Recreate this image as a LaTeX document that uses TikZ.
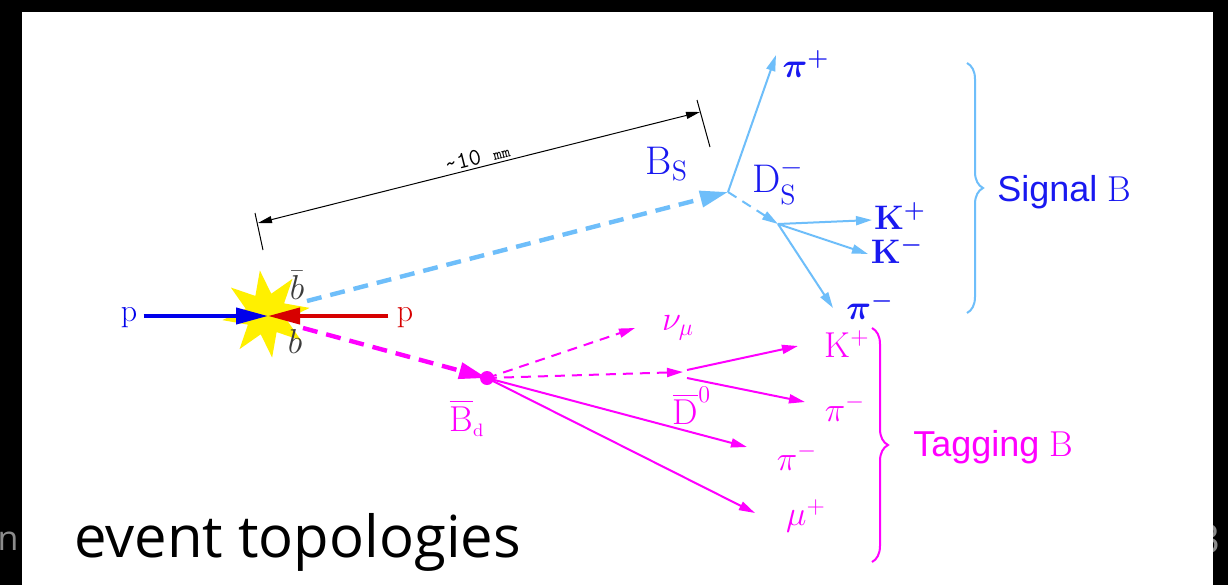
\documentclass[tikz,border=0pt]{standalone}
\usepackage{fontspec}
\usepackage{amsmath}
\newfontfamily\osans{Open Sans}
\newfontfamily\lsans{Liberation Sans}
\usetikzlibrary{arrows.meta,shapes.geometric,decorations.pathreplacing}
\definecolor{sigline}{RGB}{110,190,250}
\definecolor{sigtext}{RGB}{25,25,240}
\definecolor{tagm}{RGB}{255,0,255}
\definecolor{pblue}{RGB}{0,0,235}
\definecolor{pred}{RGB}{215,0,0}
\definecolor{staryel}{RGB}{255,240,0}
\definecolor{bgray}{RGB}{60,60,60}
\definecolor{ghost}{RGB}{140,140,140}
\newcommand{\fs}[1]{\fontsize{#1}{#1}\selectfont}
\tikzset{
  lab/.style={inner sep=0pt},
  siglab/.style={lab, text=sigtext, font=\fs{18}\boldmath},
  taglab/.style={lab, text=tagm, font=\fs{18}},
  thinarr/.style={line width=1pt, -{Triangle[length=8pt,width=4.5pt]}},
  sigarr/.style={thinarr, draw=sigline, fill=sigline},
  tagarr/.style={thinarr, draw=tagm, fill=tagm},
  thickdash/.style={line width=2.2pt, dash pattern=on 7.5pt off 4.5pt},
  thindash/.style={line width=1pt, dash pattern=on 5pt off 3.5pt},
  beam/.style={line width=2pt, -{Triangle[length=16pt,width=8pt]}},
  dimarr/.style={line width=0.5pt, black, {Triangle[length=7pt,width=3.5pt]}-{Triangle[length=7pt,width=3.5pt]}},
  bracestyle/.style={decorate, decoration={brace, amplitude=8pt}, line width=1pt},
}
\begin{document}
\begin{tikzpicture}[x=0.5pt,y=-0.5pt]
\useasboundingbox (0,0) rectangle (1228,585);
\fill[black] (0,0) rectangle (1228,585);
\node[lab, anchor=base east, text=ghost, font=\osans\fs{17}] (gn) at (19,550) {n};
\node[lab, anchor=base east, text=ghost, font=\osans\fs{20}] (g3) at (1221,553) {3};
\fill[white] (22,12) rectangle (1213,585);

% title
\node[lab, anchor=base west, font=\osans\fs{29}] (title) at (74,557) {event topologies};

% collision
\node[star, star points=8, star point ratio=2.1, fill=staryel, minimum size=44pt, inner sep=0pt, rotate=8] (star) at (266,314) {};
\node[lab, text=pblue, font=\fs{16}] (pl) at (129,318) {p};
\node[lab, text=pred, font=\fs{16}] (pr) at (405,318) {p};
\coordinate (ip) at (268,316);
\draw[beam, pblue] (pl.east) ++(6,-2) coordinate (pls) (pls) -- (ip);
\draw[beam, pred] (pr.west) ++(-8,-2) coordinate (prs) (prs) -- (ip);
\node[lab, text=bgray, font=\fs{19}] (bbar) at (297,285) {$\bar{b}$};
\node[lab, text=bgray, font=\fs{19}] (bq) at (295,341) {$b$};

% dimension line
\coordinate (dl) at (258,223);
\coordinate (dr) at (700,112);
\draw[black, line width=0.5pt] (255,213) coordinate (t1a) -- (263,250) coordinate (t1b);
\draw[black, line width=0.5pt] (697,100) coordinate (t2a) -- (710,147) coordinate (t2b);
\draw[dimarr] (dl) -- (dr);
\node[lab, rotate=14.1, font=\ttfamily\fs{12}] (dimlab) at (477,157) {\textasciitilde10 {\fs{8}mm}};

% signal B
\coordinate (bs0) at (307,301);
\coordinate (bsv) at (728,192);
\coordinate (dsv) at (778,224);
\draw[sigline, thickdash, -{Triangle[length=14pt,width=8pt]}] (bs0) -- (bsv);
\node[siglab, font=\fs{20}] (bslab) at (667,164) {B$_{\mathrm{S}}$};
\node[siglab] (pip) at (806,64) {$\pi^+$};
\node[siglab, font=\fs{20}] (dslab) at (778,182) {D$_{\mathrm{S}}^{-}$};
\node[siglab, font=\fs{17}\bfseries\boldmath] (kp) at (900,216) {K$^+$};
\node[siglab, font=\fs{17}\bfseries\boldmath] (km) at (897,250) {K$^-$};
\node[siglab] (pim) at (870,306) {$\pi^-$};
\coordinate (pipe) at (776,55);
\coordinate (kpe) at (872,220);
\coordinate (kme) at (868,254);
\coordinate (pime) at (833,308);
\draw[sigarr] (bsv) -- (pipe);
\draw[sigline, thindash, -{Triangle[length=8pt,width=4.5pt]}] (bsv) -- (dsv);
\draw[sigarr] (dsv) -- (kpe);
\draw[sigarr] (dsv) -- (kme);
\draw[sigarr] (dsv) -- (pime);
\coordinate (sbt) at (967,63);
\coordinate (sbb) at (967,313);
\draw[sigline, bracestyle] (sbt) -- (sbb);
\node[lab, anchor=west, text=sigtext, font=\lsans\fs{18}] (siglabel) at (997,192) {Signal {\rmfamily B}};

% tagging B
\coordinate (bd0) at (303,328);
\coordinate (bdv) at (487,378);
\draw[tagm, thickdash, -{Triangle[length=14pt,width=8pt]}] (bd0) -- (bdv);
\fill[tagm] (bdv) circle (7);
\coordinate (nue) at (635,328);
\coordinate (dov) at (683,372);
\coordinate (dk) at (687,370);
\coordinate (dp) at (687,378);
\coordinate (kpe2) at (798,346);
\coordinate (pime2) at (805,402);
\coordinate (pime3) at (747,447);
\coordinate (mupe) at (755,513);
\draw[tagm, thindash, -{Triangle[length=8pt,width=4.5pt]}] (bdv) -- (nue);
\draw[tagm, thindash, -{Triangle[length=8pt,width=4.5pt]}] (bdv) -- (dov);
\draw[tagarr] (dk) -- (kpe2);
\draw[tagarr] (dp) -- (pime2);
\draw[tagarr] (bdv) -- (pime3);
\draw[tagarr] (bdv) -- (mupe);
\node[taglab] (nulab) at (678,328) {$\nu_{\mu}$};
\node[taglab] (kp2) at (847,344) {K$^+$};
\node[taglab] (pm2) at (845,408) {$\pi^-$};
\node[taglab] (d0lab) at (692,406) {$\overline{\mathrm{D}}^{0}$};
\node[taglab] (bdlab) at (467,418) {$\overline{\mathrm{B}}_{\scriptscriptstyle\mathrm{d}}$};
\node[taglab] (pm3) at (797,457) {$\pi^-$};
\node[taglab] (mup) at (806,516) {$\mu^+$};
\coordinate (tbt) at (872,328);
\coordinate (tbb) at (872,562);
\draw[tagm, bracestyle] (tbt) -- (tbb);
\node[lab, anchor=west, text=tagm, font=\lsans\fs{18}] (taglabel) at (913,447) {Tagging {\rmfamily B}};
\end{tikzpicture}
\end{document}
